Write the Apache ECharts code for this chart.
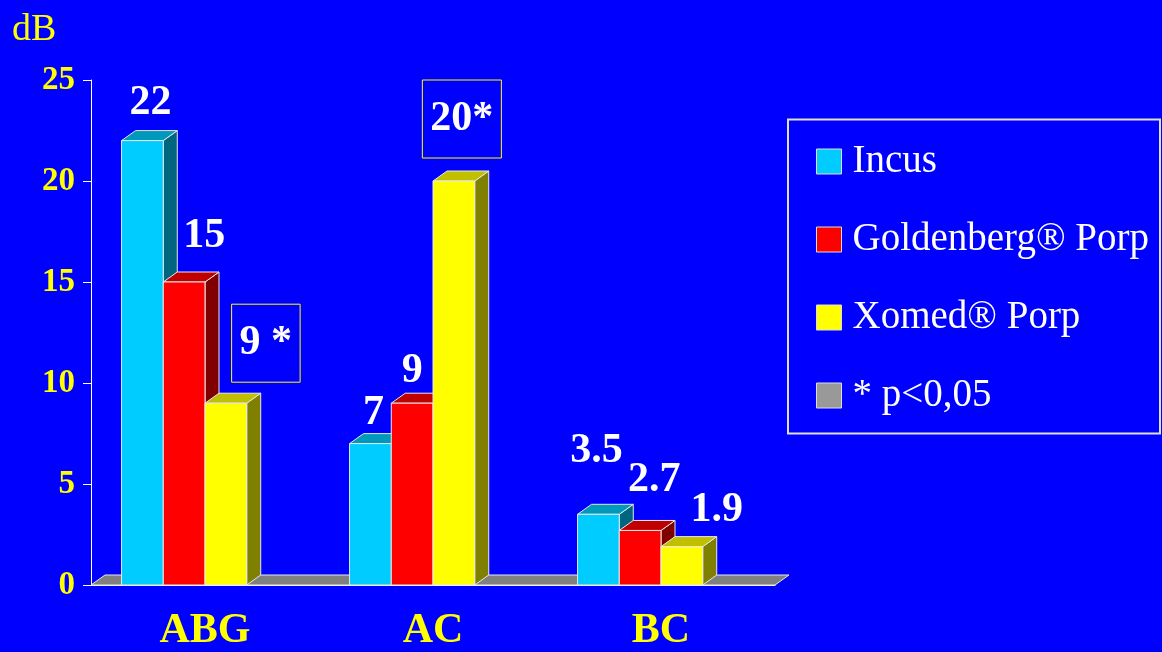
<!DOCTYPE html>
<html>
<head>
<meta charset="utf-8">
<title>dB chart</title>
<script src="https://cdn.jsdelivr.net/npm/echarts@6/dist/echarts.min.js"></script>
<style>
  html, body { margin: 0; padding: 0; background: #0000ff; }
  #chart { width: 1162px; height: 652px; }
</style>
</head>
<body>
<div id="chart"></div>
<script>
// data
const categories = ['ABG', 'AC', 'BC'];
const seriesNames = ['Incus', 'Goldenberg® Porp', 'Xomed® Porp'];
const incus = [22, 7, 3.5];
const goldenberg = [15, 9, 2.7];
const xomed = [9, 20, 1.9];
// significance marks (* p<0,05), appended to the value label
const incusStar = ['', '', ''];
const goldenbergStar = ['', '', ''];
const xomedStar = [' *', '*', ''];
const yTicks = [0, 5, 10, 15, 20, 25];

// styling / layout only
const FONT = '"Liberation Serif", "Times New Roman", serif';
const DX = 14, DY = 10; // 3d depth in px
const faces = [
  { front: '#00ccff', top: '#0099bb', side: '#006680' },
  { front: '#ff0000', top: '#c00000', side: '#800000' },
  { front: '#ffff00', top: '#c0c000', side: '#808000' }
];
// manual label nudges like in the slide (px, from the front-top centre)
const labelShift = [
  [[8, -37], [3, -30], [-2, -63]],
  [[20, -46], [0, -32], [14, -50]],
  [[40, -60], [8, -62], [35, -36]]
];

const chart = echarts.init(document.getElementById('chart'));

function bar3d(idx, stars) {
  return function (params, api) {
    const cat = api.value(0);
    const v = api.value(1);
    const base = api.coord([cat, 0]);
    const top = api.coord([cat, v]);
    const band = api.size([1, 0])[0];
    const w = band * 0.183;
    const x0 = base[0] - band * 0.366 + idx * w;
    const x1 = x0 + w;
    const yb = base[1];
    const yt = top[1];
    const f = faces[idx];
    const line = { stroke: '#e8e8e8', lineWidth: 1 };
    const sh = labelShift[idx][params.dataIndex];
    const star = stars[params.dataIndex];
    const text = {
      type: 'text',
      x: (x0 + x1) / 2 + sh[0],
      y: yt + sh[1],
      style: {
        text: String(v) + star,
        fill: '#ffffff',
        font: 'bold 42px ' + FONT,
        align: 'center',
        verticalAlign: 'middle'
      }
    };
    if (star) {
      text.style.borderColor = '#ffff00';
      text.style.borderWidth = 1;
      text.style.padding = [17, 8, 19, 8];
    }
    return {
      type: 'group',
      children: [
        {
          type: 'polygon',
          shape: { points: [[x1, yt], [x1 + DX, yt - DY], [x1 + DX, yb - DY], [x1, yb]] },
          style: Object.assign({ fill: f.side }, line)
        },
        {
          type: 'polygon',
          shape: { points: [[x0, yt], [x1, yt], [x1 + DX, yt - DY], [x0 + DX, yt - DY]] },
          style: Object.assign({ fill: f.top }, line)
        },
        {
          type: 'rect',
          shape: { x: x0, y: yt, width: w, height: yb - yt },
          style: Object.assign({ fill: f.front }, line)
        },
        text
      ]
    };
  };
}

function floor(params) {
  const cs = params.coordSys;
  const yb = cs.y + cs.height;
  return {
    type: 'polygon',
    shape: {
      points: [[cs.x, yb], [cs.x + cs.width, yb], [cs.x + cs.width + DX, yb - DY], [cs.x + DX, yb - DY]]
    },
    style: { fill: '#808080', stroke: '#e8e8e8', lineWidth: 1 }
  };
}

const option = {
  animation: false,
  backgroundColor: '#0000ff',
  color: ['#00ccff', '#ff0000', '#ffff00', '#999999'],
  title: {
    text: 'dB',
    left: 7,
    top: 6,
    textStyle: { color: '#ffff00', fontFamily: FONT, fontWeight: 'normal', fontSize: 38 }
  },
  grid: { left: 91, right: 387, top: 80, bottom: 65 },
  legend: {
    orient: 'vertical',
    left: 816,
    top: 142,
    padding: 0,
    itemGap: 39,
    itemWidth: 25,
    itemHeight: 25,
    icon: 'rect',
    selectedMode: false,
    data: seriesNames.concat(['* p<0,05']),
    itemStyle: { borderColor: '#dddddd', borderWidth: 1 },
    textStyle: { color: '#ffffff', fontFamily: FONT, fontSize: 39, padding: [0, 0, 0, 6] }
  },
  graphic: [{
    type: 'rect',
    shape: { x: 788, y: 119.5, width: 372, height: 314 },
    style: { fill: 'none', stroke: '#e0e0e0', lineWidth: 2 }
  }],
  xAxis: {
    type: 'category',
    data: categories,
    axisLine: { lineStyle: { color: '#ffffff', width: 1 } },
    axisTick: { length: 8, lineStyle: { color: '#ffffff' } },
    axisLabel: { color: '#ffff00', fontFamily: FONT, fontWeight: 'bold', fontSize: 42, margin: 25 }
  },
  yAxis: {
    type: 'value',
    min: yTicks[0],
    max: yTicks[yTicks.length - 1],
    interval: 5,
    axisLine: { show: true, lineStyle: { color: '#ffffff', width: 1 } },
    axisTick: { show: true, length: 8, lineStyle: { color: '#ffffff' } },
    axisLabel: { color: '#ffff00', fontFamily: FONT, fontWeight: 'bold', fontSize: 33, margin: 16 },
    splitLine: { show: false }
  },
  series: [
    { type: 'custom', name: 'floor', renderItem: floor, data: [[0, 0]], z: 1, silent: true },
    { type: 'custom', name: seriesNames[0], renderItem: bar3d(0, incusStar), data: incus.map((v, i) => [i, v]), itemStyle: { color: '#00ccff' }, z: 3 },
    { type: 'custom', name: seriesNames[1], renderItem: bar3d(1, goldenbergStar), data: goldenberg.map((v, i) => [i, v]), itemStyle: { color: '#ff0000' }, z: 3 },
    { type: 'custom', name: seriesNames[2], renderItem: bar3d(2, xomedStar), data: xomed.map((v, i) => [i, v]), itemStyle: { color: '#ffff00' }, z: 3 },
    { type: 'custom', name: '* p<0,05', renderItem: () => null, data: [], itemStyle: { color: '#999999' } }
  ]
};

chart.setOption(option);
</script>
</body>
</html>
